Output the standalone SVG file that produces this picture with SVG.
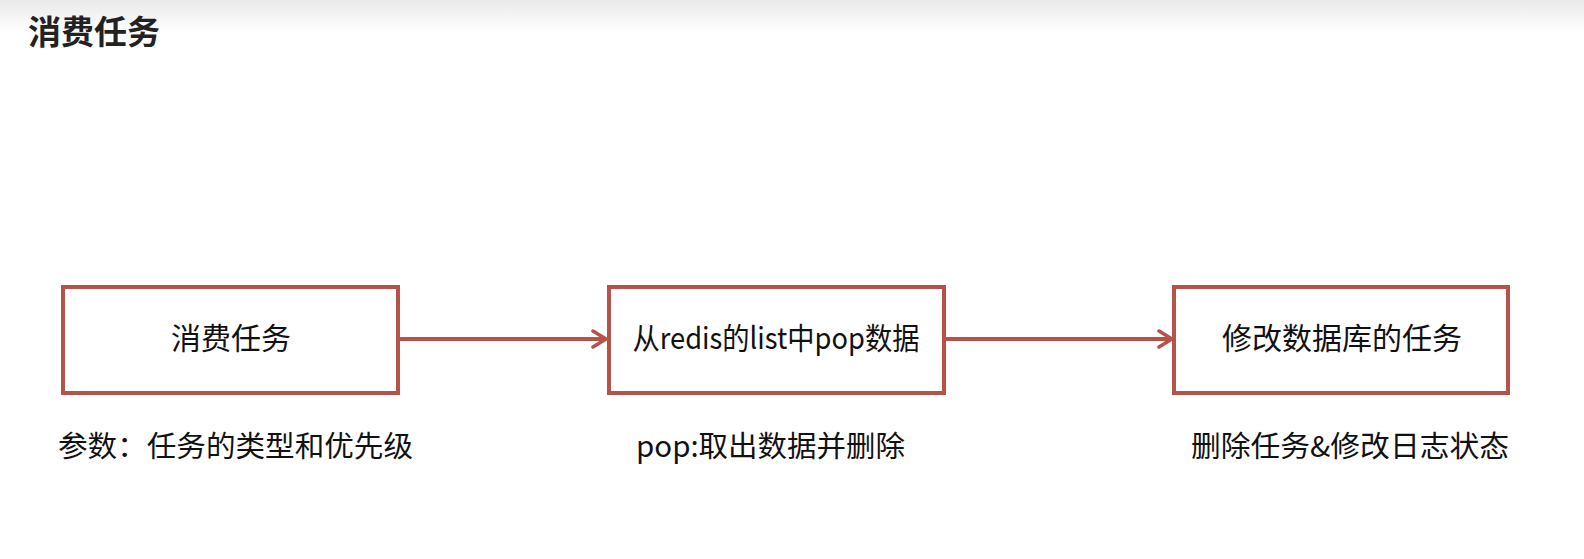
<svg xmlns="http://www.w3.org/2000/svg" width="1584" height="559" viewBox="0 0 1584 559">
<defs>
<linearGradient id="topbg" x1="0" y1="0" x2="0" y2="1">
<stop offset="0" stop-color="#e9e9e9"/>
<stop offset="1" stop-color="#ffffff"/>
</linearGradient>
<marker id="arr" viewBox="0 0 18 20" refX="16" refY="10" markerWidth="18" markerHeight="20" markerUnits="userSpaceOnUse" orient="auto">
<path d="M3,2 L16,10 L3,18" fill="none" stroke="#b5524a" stroke-width="3.5" stroke-linecap="round" stroke-linejoin="round"/>
</marker>
<style>
.box{fill:#ffffff;stroke:#b5524a;stroke-width:4}
.t{font-family:"Microsoft YaHei","Noto Sans CJK SC",sans-serif;font-size:30px;fill:#111;text-anchor:middle}
.lbl{font-family:"Microsoft YaHei","Noto Sans CJK SC",sans-serif;font-size:29px;fill:#111}
.conn{stroke:#b5524a;stroke-width:4;fill:none}
</style>
</defs>
<rect x="0" y="0" width="1584" height="559" fill="#ffffff"/>
<rect x="0" y="0" width="1584" height="32" fill="url(#topbg)"/>
<text x="28" y="44" style="font-family:'Noto Sans CJK SC',sans-serif;font-size:33px;font-weight:bold;fill:#222">消费任务</text>
<g id="connectors">
<line class="conn" x1="398" y1="339" x2="606" y2="339" marker-end="url(#arr)"/>
<line class="conn" x1="944" y1="339" x2="1172" y2="339" marker-end="url(#arr)"/>
</g>
<g id="node1">
<rect class="box" x="63" y="287" width="335" height="106"/>
<text class="t" x="231" y="349">消费任务</text>
</g>
<g id="node2">
<rect class="box" x="609" y="287" width="335" height="106"/>
<text class="t" x="776" y="349" textLength="287" lengthAdjust="spacingAndGlyphs">从redis的list中pop数据</text>
</g>
<g id="node3">
<rect class="box" x="1174" y="287" width="334" height="106"/>
<text class="t" x="1342" y="349">修改数据库的任务</text>
</g>
<g id="labels">
<text class="lbl" x="58" y="457" textLength="355" lengthAdjust="spacingAndGlyphs">参数：任务的类型和优先级</text>
<text class="lbl" x="636" y="457" textLength="269" lengthAdjust="spacingAndGlyphs">pop:取出数据并删除</text>
<text class="lbl" x="1191" y="457" textLength="318" lengthAdjust="spacingAndGlyphs">删除任务&amp;修改日志状态</text>
</g>
</svg>
